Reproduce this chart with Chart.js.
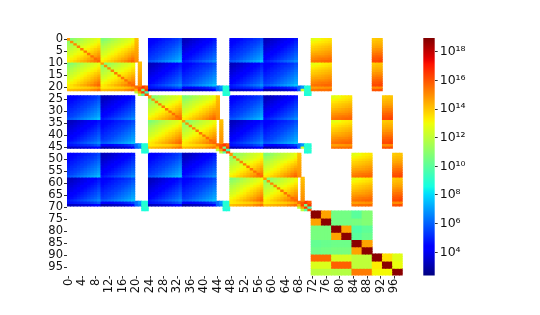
<!DOCTYPE html>
<html><head><meta charset="utf-8">
<style>
html,body{margin:0;padding:0;background:#fff;width:540px;height:315px;overflow:hidden}
canvas{position:absolute;top:0;filter:blur(0.35px)}
#hm{left:0}#cb{left:410px}
</style>
<script src="https://cdn.jsdelivr.net/npm/chart.js@4"></script>
</head><body>
<div style="position:absolute;left:0;top:0;width:420px;height:315px"><canvas id="hm" width="420" height="315"></canvas></div>
<div style="position:absolute;left:410px;top:0;width:130px;height:315px"><canvas id="cb" width="130" height="315" style="left:0"></canvas></div>
<script>
// exponents (log10 of value)
const xTickLabels=[0,4,8,12,16,20,24,28,32,36,40,44,48,52,56,60,64,68,72,76,80,84,88,92,96];
const yTickLabels=[0,5,10,15,20,25,30,35,40,45,50,55,60,65,70,75,80,85,90,95];
const cbarExponents=[4,6,8,10,12,14,16,18];
const cbarLabels=["10⁴","10⁶","10⁸","10¹⁰","10¹²","10¹⁴","10¹⁶","10¹⁸"];
const logMin=2.37, logMax=18.96;

const nearBlock=[
[14.8,10.9,11.2,11.5,11.7,12.0,12.2,12.4,12.6,12.9],
[11.1,15.0,11.5,11.8,12.0,12.2,12.4,12.6,12.8,13.1],
[11.4,11.6,15.1,12.1,12.3,12.5,12.7,12.9,13.1,13.4],
[11.7,11.9,12.1,15.2,12.6,12.8,13.0,13.2,13.4,13.7],
[11.9,12.1,12.4,12.6,15.3,13.1,13.3,13.5,13.8,14.0],
[12.2,12.4,12.6,12.9,13.1,15.4,13.6,13.8,14.1,14.4],
[12.4,12.6,12.9,13.1,13.3,13.6,15.4,14.1,14.4,14.7],
[12.7,12.9,13.2,13.4,13.6,13.9,14.1,15.5,14.7,15.0],
[13.0,13.2,13.4,13.7,13.9,14.2,14.5,14.7,15.6,15.4],
[13.3,13.5,13.8,14.0,14.3,14.5,14.8,15.1,15.4,15.7]];
const crossBlock=[
[10.7,10.9,11.2,11.5,11.7,12.0,12.2,12.4,12.6,12.9],
[11.1,11.3,11.5,11.8,12.0,12.2,12.4,12.6,12.8,13.1],
[11.4,11.6,11.9,12.1,12.3,12.5,12.7,12.9,13.1,13.4],
[11.7,11.9,12.1,12.4,12.6,12.8,13.0,13.2,13.4,13.7],
[11.9,12.1,12.4,12.6,12.9,13.1,13.3,13.5,13.8,14.0],
[12.2,12.4,12.6,12.9,13.1,13.3,13.6,13.8,14.1,14.4],
[12.4,12.6,12.9,13.1,13.3,13.6,13.8,14.1,14.4,14.7],
[12.7,12.9,13.2,13.4,13.6,13.9,14.1,14.4,14.7,15.0],
[13.0,13.2,13.4,13.7,13.9,14.2,14.5,14.7,15.1,15.4],
[13.3,13.5,13.8,14.0,14.3,14.5,14.8,15.1,15.4,15.7]];
const nearRow20=[13.3,13.4,13.5,13.6,13.7,13.8,13.9,14.1,14.3,14.6,13.3,13.4,13.5,13.6,13.7,13.8,13.9,14.1,14.3,14.6];
const nearRow21=[14.1,14.2,14.3,14.4,14.5,14.6,14.7,15.0,15.2,15.5,14.1,14.2,14.3,14.4,14.5,14.6,14.7,15.0,15.2,15.5];
const sideCol=[14.1,14.2,14.3,14.4,14.5,14.6,14.7,14.8,14.9,15.0];
const cornerBlock=[
[15.5,16.0,16.5,15.8],
[14.3,16.2,10.5,16.5],
[12.0,14.8,16.5,9.5],
[null,12.0,10.0,16.0]];

const blueBright=[
[4.3,4.4,4.5,4.6,4.8,4.9,5.0,5.2,5.3,5.6],
[4.4,4.5,4.6,4.8,4.9,5.1,5.2,5.3,5.5,5.8],
[4.5,4.6,4.8,4.9,5.1,5.2,5.4,5.5,5.7,6.0],
[4.6,4.8,4.9,5.1,5.2,5.4,5.5,5.7,5.9,6.2],
[4.8,4.9,5.1,5.2,5.4,5.5,5.7,5.9,6.1,6.4],
[4.9,5.1,5.2,5.4,5.5,5.7,5.9,6.1,6.3,6.6],
[5.1,5.2,5.4,5.5,5.7,5.9,6.1,6.3,6.5,6.8],
[5.2,5.4,5.5,5.7,5.9,6.1,6.3,6.5,6.7,7.0],
[5.4,5.5,5.7,5.9,6.1,6.3,6.5,6.7,6.9,7.2],
[5.8,5.9,6.1,6.3,6.5,6.7,6.9,7.1,7.3,7.6]];
const blueDark=[
[3.2,3.3,3.4,3.6,3.7,3.9,4.0,4.2,4.4,4.7],
[3.3,3.4,3.6,3.7,3.9,4.0,4.2,4.4,4.6,4.9],
[3.4,3.6,3.7,3.9,4.0,4.2,4.4,4.6,4.8,5.1],
[3.6,3.7,3.9,4.0,4.2,4.4,4.6,4.8,5.0,5.3],
[3.7,3.9,4.0,4.2,4.4,4.6,4.8,5.0,5.2,5.5],
[3.9,4.0,4.2,4.4,4.6,4.8,5.0,5.2,5.4,5.7],
[4.0,4.2,4.4,4.6,4.8,5.0,5.2,5.4,5.6,5.9],
[4.2,4.4,4.6,4.8,5.0,5.2,5.4,5.6,5.8,6.1],
[4.4,4.6,4.8,5.0,5.2,5.4,5.6,5.8,6.0,6.3],
[4.8,5.0,5.2,5.4,5.6,5.8,6.0,6.2,6.4,6.7]];
const blueRow20=[4.6,4.7,4.8,4.9,5.0,5.1,5.2,5.4,5.6,5.9,4.2,4.3,4.4,4.5,4.6,4.7,4.8,5.0,5.2,5.5];
const blueRow21=[3.2,3.3,3.4,3.5,3.6,3.7,3.8,4.0,4.2,4.5,2.9,3.0,3.1,3.2,3.3,3.4,3.5,3.7,3.9,4.2];
const blueSideRow20=[6.2,6.9];
const blueSideRow21=[6.0,6.5];
const cyanCorner=[
[8.8,8.8],
[9.0,8.9],
[8.9,9.1],
[8.7,8.8]];

const rightRowsWide=[
[12.7,12.9,13.0,13.2,13.3,13.4],
[13.1,13.2,13.3,13.4,13.5,13.6],
[13.4,13.5,13.6,13.7,13.8,13.9],
[13.7,13.8,13.9,14.0,14.1,14.2],
[13.9,14.0,14.1,14.2,14.3,14.4],
[14.2,14.3,14.4,14.5,14.6,14.7],
[14.5,14.6,14.6,14.7,14.8,14.9],
[14.8,14.9,15.0,15.0,15.1,15.2],
[15.1,15.2,15.3,15.4,15.4,15.5],
[15.4,15.5,15.5,15.6,15.7,15.7]];
const rightBandWide=[
[14.7,14.7,14.8,14.8,14.9,14.9],
[15.4,15.4,15.5,15.5,15.5,15.6]];
const rightRowsNarrow=[
[13.9,14.0,14.0],[14.1,14.2,14.2],[14.3,14.4,14.4],[14.5,14.6,14.6],[14.8,14.9,14.9],
[15.1,15.2,15.2],[15.4,15.5,15.5],[15.7,15.8,15.8],[16.0,16.0,16.1],[16.2,16.2,16.3]];
const rightBandNarrow=[[15.0,15.0,15.1],[16.0,16.0,16.1]];

const lowerBlock=[
[18.8,14.6,10.5,10.5,10.0,10.8,null,null,null],
[14.6,18.8,10.5,10.5,10.6,10.8,null,null,null],
[10.6,10.6,18.8,14.6, 9.8,10.1,null,null,null],
[10.6,10.6,14.6,18.8,10.0,10.3,null,null,null],
[10.2,10.3,10.4,10.4,18.8,14.6,null,null,null],
[10.4,10.5,10.6,10.6,14.6,18.8,null,null,null],
[15.6,15.6,12.5,12.5,12.0,12.0,18.8,13.5,12.7],
[12.6,12.6,15.8,15.8,12.0,12.0,13.3,18.8,12.9],
[11.9,11.9,11.8,11.8,15.3,15.3,13.1,13.1,18.8]];

const size=99, groupStarts=[0,24,48];
const wideCols=[72,78,84], narrowCols=[90,93,96];
const matrix=Array.from({length:size},()=>Array(size).fill(null));
function put(r,c,v){matrix[r][c]=v;}
function paste(tbl,r0,c0){tbl.forEach((row,i)=>row.forEach((v,j)=>put(r0+i,c0+j,v)));}

groupStarts.forEach((gr,gi)=>{
  groupStarts.forEach((gc,gj)=>{
    if(gi===gj){
      paste(nearBlock,gr,gc); paste(nearBlock,gr+10,gc+10);
      paste(crossBlock,gr,gc+10); paste(crossBlock,gr+10,gc);
      paste([nearRow20,nearRow21],gr+20,gc);
      sideCol.forEach((v,i)=>{put(gr+i,gc+20,v);put(gr+10+i,gc+21,v);});
      paste(cornerBlock,gr+20,gc+20);
    }else{
      paste(blueBright,gr,gc); paste(blueBright,gr+10,gc+10);
      paste(blueDark,gr,gc+10); paste(blueDark,gr+10,gc);
      paste([blueRow20,blueRow21],gr+20,gc);
      paste([blueSideRow20,blueSideRow21],gr+20,gc+20);
      paste(cyanCorner,gr+20,gc+22);
    }
  });
  paste(rightRowsWide,gr,wideCols[gi]); paste(rightRowsWide,gr+10,wideCols[gi]);
  paste(rightBandWide,gr+20,wideCols[gi]);
  paste(rightRowsNarrow,gr,narrowCols[gi]); paste(rightRowsNarrow,gr+10,narrowCols[gi]);
  paste(rightBandNarrow,gr+20,narrowCols[gi]);
});
put(21,69,12.5); put(45,69,12.5);
lowerBlock.forEach((row,i)=>row.forEach((v,j)=>{
  for(let a=0;a<3;a++)for(let b=0;b<3;b++)put(72+i*3+a,72+j*3+b,v);
}));

function lerp(pts,t){
  for(let i=1;i<pts.length;i++){
    if(t<=pts[i][0]){
      const [x0,y0]=pts[i-1],[x1,y1]=pts[i];
      return y0+(y1-y0)*(t-x0)/(x1-x0);
    }
  }
  return pts[pts.length-1][1];
}
const jetR=[[0,0],[.35,0],[.66,1],[.89,1],[1,.5]];
const jetG=[[0,0],[.125,0],[.375,1],[.64,1],[.91,0],[1,0]];
const jetB=[[0,.5],[.11,1],[.34,1],[.65,0],[1,0]];
function jet(t){
  t=Math.max(0,Math.min(1,t));
  return `rgb(${Math.round(255*lerp(jetR,t))},${Math.round(255*lerp(jetG,t))},${Math.round(255*lerp(jetB,t))})`;
}
const colorOf=v=>v===null?'rgba(0,0,0,0)':jet((v-logMin)/(logMax-logMin));

const font={family:'"DejaVu Sans"',size:11.5};
const plotLeft=67,plotRight=402.7,plotTop=38,plotBottom=275.6;
const W=420,H=315;

new Chart(document.getElementById('hm'),{
  type:'bar',
  data:{
    labels:matrix.map((_,i)=>String(i)),
    datasets:matrix.map((row,r)=>({
      data:row.map(v=>v===null?null:[r,r+1]),
      backgroundColor:row.map(colorOf),
      borderWidth:0,inflateAmount:0.4,
      barPercentage:1,categoryPercentage:1,grouped:false
    }))
  },
  options:{
    responsive:false,animation:false,events:[],
    layout:{padding:{left:0,top:plotTop,right:W-plotRight,bottom:0}},
    plugins:{legend:{display:false},tooltip:{enabled:false},title:{display:false}},
    scales:{
      x:{
        type:'category',
        grid:{display:true,drawOnChartArea:false,drawTicks:true,tickLength:3,tickColor:'#333',offset:false},
        border:{display:false},
        afterBuildTicks:s=>{s.ticks=xTickLabels.map(v=>({value:v}));},
        afterFit:s=>{s.height=H-plotBottom;},
        ticks:{autoSkip:false,maxRotation:90,minRotation:90,color:'#111',font:font,padding:0}
      },
      y:{
        type:'linear',min:0,max:size,reverse:true,
        grid:{display:true,drawOnChartArea:false,drawTicks:true,tickLength:3,tickColor:'#333'},
        border:{display:false},
        afterBuildTicks:s=>{s.ticks=yTickLabels.map(v=>({value:v+0.5}));},
        afterFit:s=>{s.width=plotLeft;},
        ticks:{autoSkip:false,color:'#111',font:font,padding:1,callback:v=>String(Math.floor(v))}
      }
    }
  }
});

const cbLeft=13.3,cbRight=24.7;
new Chart(document.getElementById('cb'),{
  type:'bar',
  data:{
    labels:['scale'],
    datasets:[{
      data:[[Math.pow(10,logMin),Math.pow(10,logMax)]],
      borderWidth:0,barPercentage:1,categoryPercentage:1,
      backgroundColor:c=>{
        const a=c.chart.chartArea; if(!a)return '#00f';
        const g=c.chart.ctx.createLinearGradient(0,a.bottom,0,a.top);
        for(let i=0;i<=64;i++)g.addColorStop(i/64,jet(i/64));
        return g;
      }
    }]
  },
  options:{
    responsive:false,animation:false,events:[],
    layout:{padding:{left:cbLeft,top:plotTop,right:0,bottom:H-plotBottom}},
    plugins:{legend:{display:false},tooltip:{enabled:false}},
    scales:{
      x:{display:false},
      y:{
        type:'logarithmic',position:'right',
        min:Math.pow(10,logMin),max:Math.pow(10,logMax),
        grid:{display:true,drawOnChartArea:false,drawTicks:true,tickLength:3,tickColor:'#333'},
        border:{display:false},
        afterBuildTicks:s=>{s.ticks=cbarExponents.map(e=>({value:Math.pow(10,e)}));},
        afterFit:s=>{s.width=130-cbRight;},
        ticks:{autoSkip:false,color:'#111',font:{family:'"DejaVu Sans"',size:12.5},padding:2,
          callback:v=>cbarLabels[cbarExponents.indexOf(Math.round(Math.log10(v)))]}
      }
    }
  }
});
</script>
</body></html>
